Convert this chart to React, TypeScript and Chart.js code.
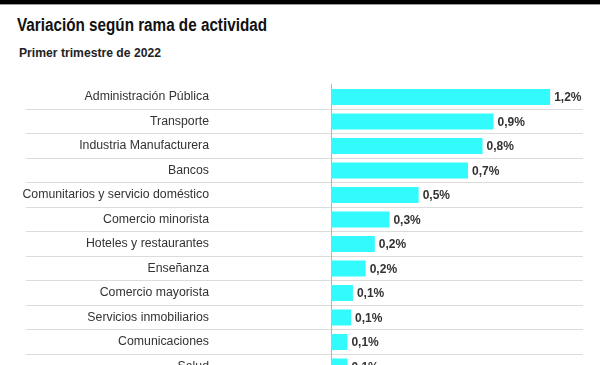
import React, { useEffect, useRef } from 'react';
import { Chart, registerables } from 'chart.js';

Chart.register(...registerables);

const title = 'Variación según rama de actividad';
const subtitle = 'Primer trimestre de 2022';

const categories = [
  'Administración Pública',
  'Transporte',
  'Industria Manufacturera',
  'Bancos',
  'Comunitarios y servicio doméstico',
  'Comercio minorista',
  'Hoteles y restaurantes',
  'Enseñanza',
  'Comercio mayorista',
  'Servicios inmobiliarios',
  'Comunicaciones',
  'Salud',
];

const values = [1.2, 0.89, 0.83, 0.75, 0.48, 0.32, 0.24, 0.19, 0.12, 0.11, 0.09, 0.09];

const valueLabels = ['1,2%', '0,9%', '0,8%', '0,7%', '0,5%', '0,3%', '0,2%', '0,2%', '0,1%', '0,1%', '0,1%', '0,1%'];

const LABEL_FONT = '"Liberation Sans", Arial, sans-serif';

const valueLabelPlugin = {
  id: 'valueLabels',
  afterDatasetsDraw(chart: any) {
    const { ctx } = chart;
    const meta = chart.getDatasetMeta(0);
    ctx.save();
    ctx.font = `bold 12px ${LABEL_FONT}`;
    ctx.fillStyle = '#333333';
    ctx.textAlign = 'left';
    ctx.textBaseline = 'middle';
    meta.data.forEach((bar: any, i: number) => {
      ctx.fillText(valueLabels[i], bar.x + 4, bar.y + 1);
    });
    ctx.restore();
  },
};

function FittedText(props: { text: string; left: number; top: number; size: number; width: number; color: string }) {
  const ref = useRef<HTMLDivElement | null>(null);
  useEffect(() => {
    const el = ref.current;
    if (!el) return;
    el.style.transform = 'none';
    const w = el.getBoundingClientRect().width;
    if (w > 0) el.style.transform = `scaleX(${props.width / w})`;
  }, [props.text, props.width]);
  return (
    <div
      ref={ref}
      style={{
        position: 'absolute',
        left: props.left,
        top: props.top,
        fontFamily: LABEL_FONT,
        fontWeight: 'bold',
        fontSize: props.size,
        lineHeight: `${props.size}px`,
        color: props.color,
        whiteSpace: 'nowrap',
        transformOrigin: 'left top',
        display: 'inline-block',
      }}
    >
      {props.text}
    </div>
  );
}

export default function App() {
  const canvasRef = useRef<HTMLCanvasElement | null>(null);

  useEffect(() => {
    if (!canvasRef.current) return;
    const chart = new Chart(canvasRef.current, {
      type: 'bar',
      data: {
        labels: categories,
        datasets: [
          {
            data: values,
            backgroundColor: '#33fbfd',
            borderWidth: 0,
            barPercentage: 0.65,
            categoryPercentage: 1,
          },
        ],
      },
      options: {
        animation: false,
        responsive: false,
        indexAxis: 'y',
        layout: { padding: { left: 0, right: 17, top: 4.75, bottom: 11.25 } },
        plugins: {
          legend: { display: false },
          tooltip: { enabled: false },
        },
        scales: {
          x: { display: false, min: 0, max: 1.38 },
          y: {
            afterFit: (s: any) => {
              s.width = 331;
            },
            border: { display: true, color: '#b5b5b5', width: 1 },
            grid: {
              offset: true,
              tickLength: 305,
              lineWidth: 1,
              color: (c: any) => (c.index === 0 ? 'rgba(0,0,0,0)' : '#dcdcdc'),
            },
            ticks: {
              autoSkip: false,
              padding: -183,
              color: '#333333',
              font: { family: LABEL_FONT, size: 12.3 },
            },
          },
        },
      },
      plugins: [valueLabelPlugin],
    } as any);
    return () => chart.destroy();
  }, []);

  return (
    <div
      style={{
        position: 'fixed',
        left: 0,
        top: 0,
        width: 600,
        height: 365,
        overflow: 'hidden',
        background: '#ffffff',
      }}
    >
      <div style={{ position: 'absolute', left: 0, top: 0, width: 600, height: 4, background: '#000000' }} />
      <div style={{ position: 'absolute', left: 0, top: 4, width: 600, height: 1, background: '#9a9a9a' }} />
      <FittedText text={title} left={17} top={15.8} size={18} width={250} color="#111111" />
      <FittedText text={subtitle} left={19} top={45.7} size={13} width={142} color="#222222" />
      <div style={{ position: 'absolute', left: 0, top: 80, width: 600, height: 310 }}>
        <canvas ref={canvasRef} width={600} height={310} style={{ display: 'block' }} />
      </div>
    </div>
  );
}
